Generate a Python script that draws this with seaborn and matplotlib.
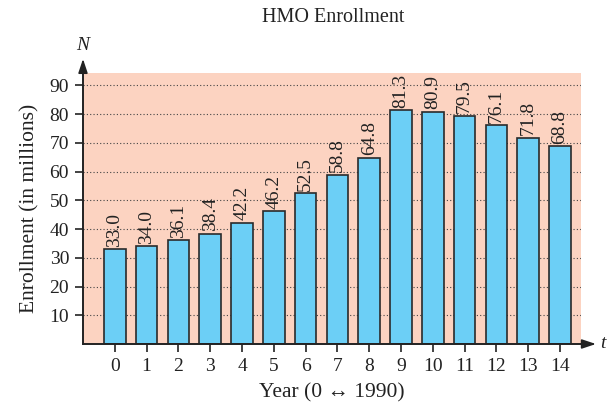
import matplotlib
matplotlib.use("Agg")
import matplotlib.pyplot as plt
import seaborn as sns
import pandas as pd

years = list(range(15))
enrollment = [33.0, 34.0, 36.1, 38.4, 42.2, 46.2, 52.5, 58.8, 64.8,
              81.3, 80.9, 79.5, 76.1, 71.8, 68.8]
y_ticks = [10, 20, 30, 40, 50, 60, 70, 80, 90]

sns.set_theme(style="white")
plt.rcParams["font.family"] = ["Liberation Serif", "DejaVu Serif"]

df = pd.DataFrame({"year": years, "enrollment": enrollment})

fig = plt.figure(figsize=(6.09, 4.07), dpi=100)
ax = fig.add_axes([83 / 609, 1 - 344 / 407, (581 - 83) / 609, (344 - 73) / 407])
ax.set_facecolor("#fcd3c1")

for v in y_ticks:
    ax.axhline(v, color="#444444", lw=0.8, ls=(0, (1, 2)), zorder=0.5)

sns.barplot(data=df, x="year", y="enrollment", color="#6ccff6", width=0.68,
            edgecolor="#2a2a2a", linewidth=1.2, saturation=1, ax=ax, zorder=2)

for i, v in enumerate(enrollment):
    ax.text(i, v + 0.9, f"{v:.1f}", rotation=90, ha="center", va="bottom",
            fontsize=14, color="#222222", zorder=3)

ax.set_xlim(-1.0, 14.66)
ax.set_ylim(0, 94.3)
ax.set_yticks(y_ticks)
ax.set_yticklabels([str(v) for v in y_ticks], fontsize=14)
ax.set_xticks(years)
ax.set_xticklabels([str(y) for y in years], fontsize=14)
ax.tick_params(axis="both", direction="out", length=6, width=1.2,
               color="#222222", labelcolor="#222222", pad=4, left=True, bottom=True)

for side in ["top", "right"]:
    ax.spines[side].set_visible(False)
for side in ["left", "bottom"]:
    ax.spines[side].set_color("#222222")
    ax.spines[side].set_linewidth(1.2)

# axis arrows
ax.annotate("", xy=(0, 1.052), xytext=(0, 0), xycoords="axes fraction",
            arrowprops=dict(arrowstyle="-|>,head_length=0.6,head_width=0.2",
                            color="#222222", lw=1.2,
                            mutation_scale=14, shrinkA=0, shrinkB=0))
ax.annotate("", xy=(1.03, 0), xytext=(0, 0), xycoords="axes fraction",
            arrowprops=dict(arrowstyle="-|>,head_length=0.6,head_width=0.2",
                            color="#222222", lw=1.2,
                            mutation_scale=14, shrinkA=0, shrinkB=0))
fig.text(83 / 609, 1 - 46 / 407, "N", style="italic", fontsize=14,
         ha="center", va="center", color="#222222")
fig.text(603 / 609, 1 - 344 / 407, "t", style="italic", fontsize=14,
         ha="center", va="center", color="#222222")

ax.set_xlabel("Year (0 \u2194 1990)", fontsize=15.5, color="#222222", labelpad=6)
ax.set_ylabel("Enrollment (in millions)", fontsize=15.5, color="#222222", labelpad=7)
fig.text(333 / 609, 1 - 18 / 407, "HMO Enrollment", fontsize=14.5,
         ha="center", va="center", color="#222222")

fig.savefig("out.png", dpi=100)
